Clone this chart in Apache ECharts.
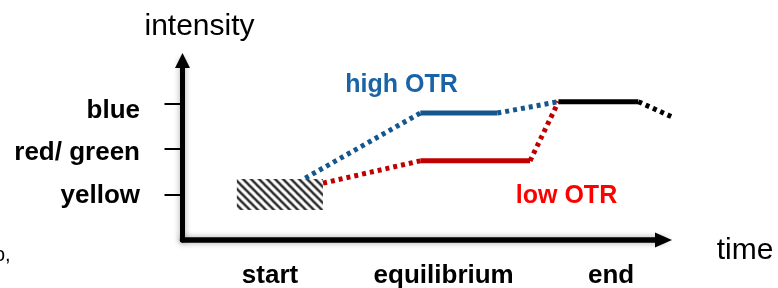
<!DOCTYPE html>
<html>
<head>
<meta charset="utf-8">
<script src="https://cdn.jsdelivr.net/npm/echarts@6/dist/echarts.min.js"></script>
<style>
html,body{margin:0;padding:0;background:#fff;}
#chart{width:778px;height:288px;}
</style>
</head>
<body>
<div id="chart"></div>
<script>
// ---- data (x: time units, y: colour/intensity level) ----
const levelValues = [1, 2, 3];
const levelLabels = ['yellow', 'red/ green', 'blue'];
const phaseValues = [18.2, 54.3, 89.1];
const phaseLabels = ['start', 'equilibrium', 'end'];

// start region (hatched box): [x0, x1, y0, y1]
const startBox = [11.3, 29.2, 0.66, 1.34];

// high OTR path
const highX = [25.5, 49.4, 65.4, 78.1];
const highY = [1.36, 2.79, 2.79, 3.04];
const highStyle = ['dotted', 'solid', 'dotted'];

// low OTR path
const lowX = [29.2, 49.4, 72.2, 78.1];
const lowY = [1.25, 1.74, 1.74, 3.04];
const lowStyle = ['dotted', 'solid', 'dotted'];

// common end path
const endX = [78.1, 94.7, 101.8];
const endY = [3.04, 3.04, 2.70];
const endStyle = ['solid', 'dotted'];

const BLUE = '#14578f';
const RED = '#c00000';
const FONT = '"Liberation Sans", Arial, sans-serif';

function segments(xs, ys, styles, color, name) {
  const out = [];
  for (let i = 0; i < styles.length; i++) {
    out.push({
      name: name + i,
      type: 'line',
      xAxisIndex: 1, yAxisIndex: 1,
      data: [[xs[i], ys[i]], [xs[i + 1], ys[i + 1]]],
      symbol: 'none',
      clip: false,
      silent: true,
      z: 5,
      lineStyle: {
        color: color,
        width: 5,
        type: styles[i] === 'dotted' ? [4, 4] : 'solid',
        cap: 'butt'
      }
    });
  }
  return out;
}

// hatch pattern
const P = 8;
const pc = document.createElement('canvas');
pc.width = P; pc.height = P;
const g = pc.getContext('2d');
g.fillStyle = '#ffffff';
g.fillRect(0, 0, P, P);
function stripes(color, w) {
  g.strokeStyle = color;
  g.lineWidth = w;
  for (let k = -1; k <= 1; k++) {
    g.beginPath();
    g.moveTo(k * P - 1, -1);
    g.lineTo(k * P + P + 1, P + 1);
    g.stroke();
  }
}
stripes('#a8a8a8', 3.6);
stripes('#262626', 1.6);

const chart = echarts.init(document.getElementById('chart'), null, {renderer: 'canvas'});

const axisShadow = {shadowColor: 'rgba(0,0,0,0.35)', shadowBlur: 6, shadowOffsetX: 0, shadowOffsetY: 0};

const labelRich = {
  y: {fontFamily: FONT, fontWeight: 'bold', fontSize: 26, color: '#000', padding: [2, 0, 0, 0]},
  r: {fontFamily: FONT, fontWeight: 'bold', fontSize: 26, color: '#000', padding: [7, 0, 0, 0]},
  b: {fontFamily: FONT, fontWeight: 'bold', fontSize: 26, color: '#000', padding: [14, 0, 0, 0]}
};
const richKeys = ['y', 'r', 'b'];

const option = {
  animation: false,
  backgroundColor: '#ffffff',
  grid: [
    {left: 182.5, top: 60.5, right: 114.5, bottom: 48, containLabel: false, outerBoundsMode: 'none'},
    {left: 182.5, top: 60.5, right: 104.5, bottom: 48, containLabel: false, outerBoundsMode: 'none'}
  ],
  xAxis: [{
    type: 'value', min: 0, max: 100, gridIndex: 0,
    splitLine: {show: false},
    axisTick: {show: false},
    axisLine: {
      show: true, onZero: false,
      symbol: ['none', 'triangle'], symbolSize: [15, 17],
      lineStyle: Object.assign({color: '#000', width: 5.5}, axisShadow)
    },
    axisLabel: {
      customValues: phaseValues,
      formatter: function (v) {
        const i = phaseValues.indexOf(v);
        return i >= 0 ? phaseLabels[i] : '';
      },
      margin: 23,
      color: '#000',
      fontFamily: FONT,
      fontWeight: 'bold',
      fontSize: 26
    }
  }, {
    type: 'value', min: 0, max: 102, gridIndex: 1, show: false
  }],
  yAxis: [{
    type: 'value', min: 0, max: 3.945, gridIndex: 0,
    splitLine: {show: false},
    axisLine: {
      show: true, onZero: false,
      symbol: ['none', 'triangle'], symbolSize: [15, 15],
      lineStyle: Object.assign({color: '#000', width: 5}, axisShadow)
    },
    axisTick: {
      show: true, customValues: levelValues, length: 18,
      lineStyle: {color: '#000', width: 2}
    },
    axisLabel: {
      customValues: levelValues,
      formatter: function (v) {
        const i = levelValues.indexOf(v);
        return i >= 0 ? '{' + richKeys[i] + '|' + levelLabels[i] + '}' : '';
      },
      rich: labelRich,
      margin: 42.5
    }
  }, {
    type: 'value', min: 0, max: 3.945, gridIndex: 1, show: false
  }],
  graphic: [
    {type: 'text', x: 199.5, y: 26.5, style: {text: 'intensity', fill: '#000', font: '30px ' + FONT, align: 'center', verticalAlign: 'middle'}},
    {type: 'text', x: 745, y: 250.5, style: {text: 'time', fill: '#000', font: '30px ' + FONT, align: 'center', verticalAlign: 'middle'}},
    {type: 'text', x: 401.5, y: 85, style: {text: 'high OTR', fill: '#1a63a6', font: 'bold 25px ' + FONT, align: 'center', verticalAlign: 'middle'}},
    {type: 'text', x: 566.5, y: 196, style: {text: 'low OTR', fill: '#ff0000', font: 'bold 25px ' + FONT, align: 'center', verticalAlign: 'middle'}},
    {type: 'text', x: -6, y: 255, style: {text: 'o,', fill: '#000', font: '20px ' + FONT, align: 'left', verticalAlign: 'middle'}}
  ],
  series: [
    {
      type: 'custom',
      xAxisIndex: 0, yAxisIndex: 0,
      silent: true,
      clip: false,
      z: 3,
      data: [startBox],
      encode: {x: [0, 1], y: [2, 3]},
      renderItem: function (params, api) {
        const p0 = api.coord([api.value(0), api.value(3)]);
        const p1 = api.coord([api.value(1), api.value(2)]);
        return {
          type: 'rect',
          shape: {x: p0[0], y: p0[1], width: p1[0] - p0[0], height: p1[1] - p0[1]},
          style: {fill: {image: pc, repeat: 'repeat'}, stroke: null}
        };
      }
    }
  ].concat(
    segments(highX, highY, highStyle, BLUE, 'high'),
    segments(lowX, lowY, lowStyle, RED, 'low'),
    segments(endX, endY, endStyle, '#000', 'end')
  )
};
chart.setOption(option);
</script>
</body>
</html>
